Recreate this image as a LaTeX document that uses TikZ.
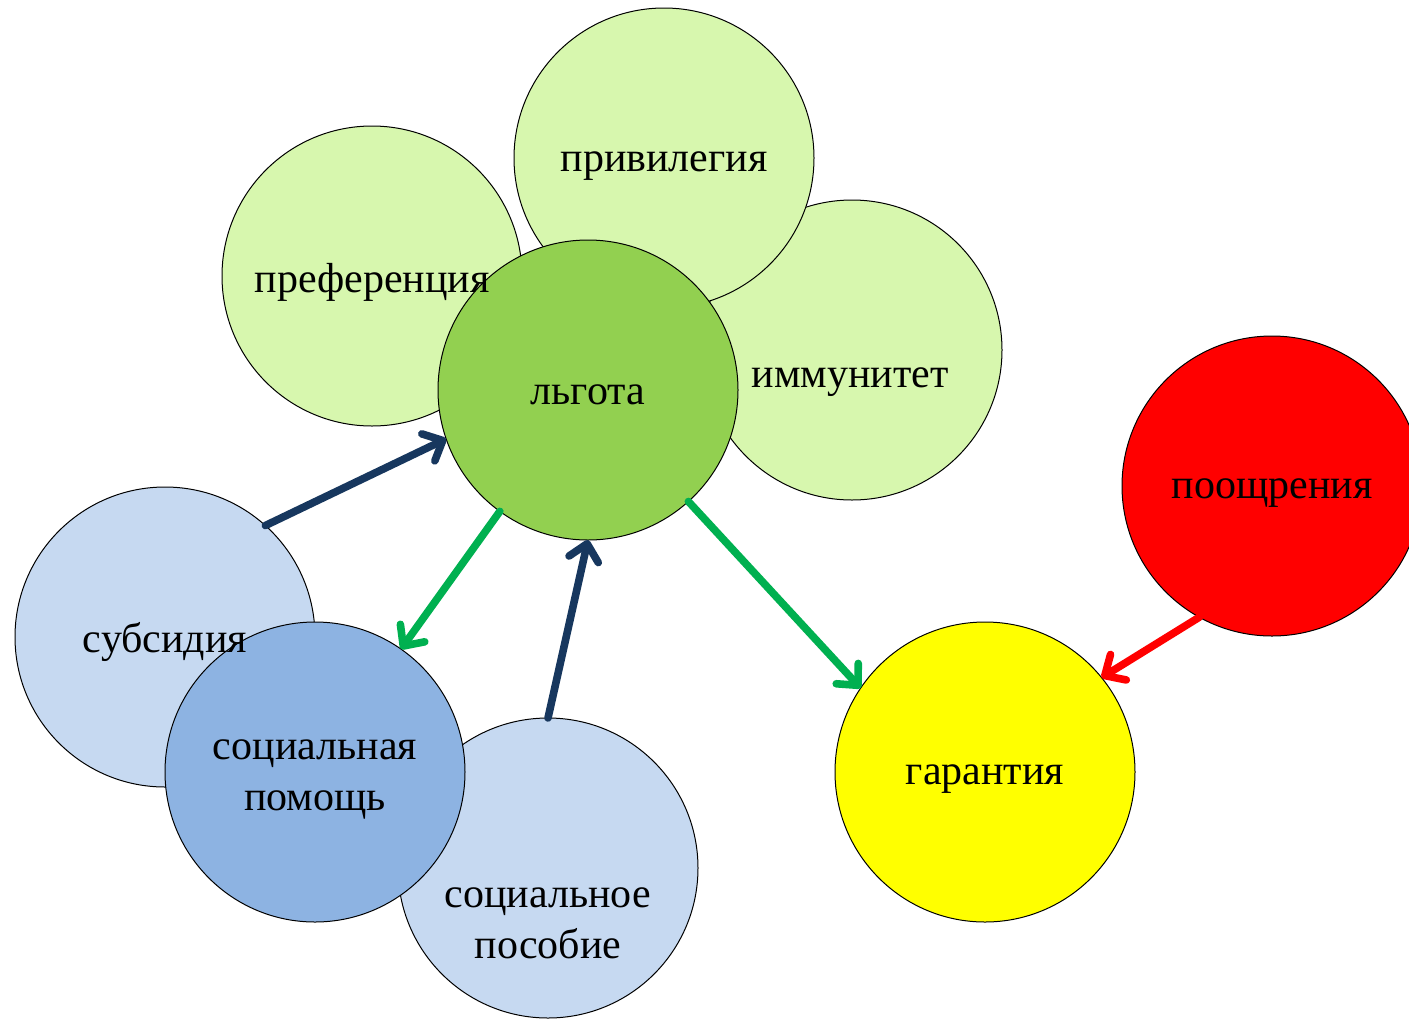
\documentclass[tikz,border=0pt]{standalone}
\usepackage{fontspec}
\setmainfont{Liberation Serif}
\usetikzlibrary{arrows.meta}
\definecolor{lgreen}{HTML}{D7F7AE}
\definecolor{mgreen}{HTML}{92D050}
\definecolor{lblue}{HTML}{C6D9F1}
\definecolor{mblue}{HTML}{8DB3E2}
\definecolor{navy}{HTML}{17375E}
\definecolor{agreen}{HTML}{00B050}
\definecolor{ared}{HTML}{FF0000}
\definecolor{ayellow}{HTML}{FFFF00}
\begin{document}
\begin{tikzpicture}[x=0.5pt,y=-0.5pt,
  circ/.style={circle, draw=black, line width=0.5pt, minimum size=150pt, inner sep=0pt, outer sep=0pt},
  lbl/.style={font=\fontsize{21}{25.5}\selectfont, align=center, text=black, inner sep=0pt},
  arr/.style={line width=3.8pt, line cap=round,
    -{Straight Barb[length=8pt,width=15pt,line cap=round,line join=round]}}
]
\useasboundingbox (0,0) rectangle (1409,1018);
\clip (0,0) rectangle (1409,1018);
% circles
\node[circ, fill=lgreen] (pref) at (372,276) {};
\node[circ, fill=lgreen] (immun) at (852,350) {};
\node[circ, fill=lgreen] (priv) at (664,158) {};
\node[circ, fill=mgreen] (lgota) at (588,390) {};
\node[circ, fill=ared] (pooshch) at (1272,486) {};
\node[circ, fill=ayellow] (garant) at (985,772) {};
\node[circ, fill=lblue] (subs) at (165,637) {};
\node[circ, fill=lblue] (posob) at (548,868) {};
\node[circ, fill=mblue] (pomosh) at (315,772) {};
% arrows
\draw[arr, draw=navy] (subs.48) -- (lgota.199);
\draw[arr, draw=navy] (posob.90) -- (lgota.270);
\draw[arr, draw=agreen] (lgota.234) -- (pomosh.55);
\draw[arr, draw=agreen] (lgota.312) -- (garant.146);
\draw[arr, draw=ared] (pooshch.241) -- (garant.39);
% texts
\node[lbl] (tpriv) at (664,166) {привилегия};
\node[lbl] (tpref) at (372,282) {преференция};
\node[lbl] (timmun) at (850,382) {иммунитет};
\node[lbl] (tlgota) at (588,395) {льгота};
\node[lbl] (tpoo) at (1272,493) {поощрения};
\node[lbl] (tgar) at (985,779) {гарантия};
\node[lbl] (tsubs) at (165,642) {субсидия};
\node[lbl] (tpom) at (315,779) {социальная\\помощь};
\node[lbl] (tpos) at (548,923) {социальное\\пособие};
\end{tikzpicture}
\end{document}
